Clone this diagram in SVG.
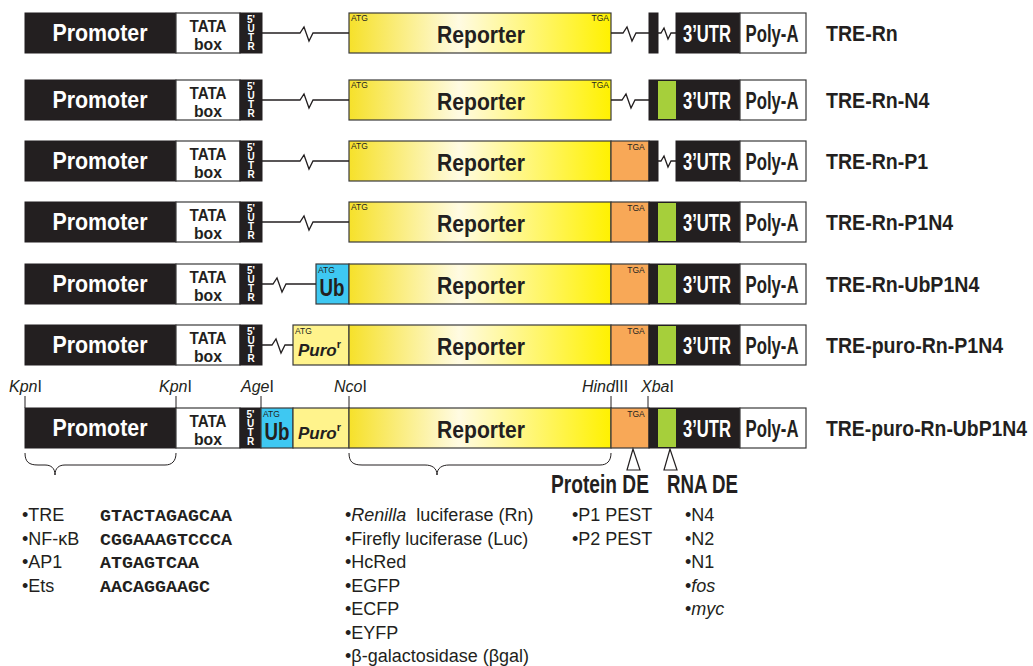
<svg xmlns="http://www.w3.org/2000/svg" width="1033" height="666" viewBox="0 0 1033 666">
<defs>
<linearGradient id="repg" x1="0" y1="0" x2="1" y2="0">
<stop offset="0" stop-color="#f6e12a"/>
<stop offset="0.42" stop-color="#fffbe2"/>
<stop offset="1" stop-color="#fff100"/>
</linearGradient>
<style>
.blk{fill:#231f20;stroke:#231f20;stroke-width:1}
.wht{fill:#fff;stroke:#3a3a3a;stroke-width:1.2}
.rep{fill:url(#repg);stroke:#3a3a3a;stroke-width:1.2}
.org{fill:#f8a857;stroke:#3a3a3a;stroke-width:1.2}
.grn{fill:#a6cf3b}
.ub{fill:#3ec8f2;stroke:#3a3a3a;stroke-width:1.2}
.puro{fill:#fff38c;stroke:#3a3a3a;stroke-width:1.2}
.lnk{fill:none;stroke:#231f20;stroke-width:1.3}
.tick{fill:none;stroke:#231f20;stroke-width:1}
.tri{fill:#fff;stroke:#231f20;stroke-width:1.2}
text{font-family:"Liberation Sans",Arial,Helvetica,sans-serif}
.big{font-size:23px;font-weight:bold;text-anchor:middle}
.w{fill:#fff}
.k{fill:#231f20}
.tata{font-size:16px;font-weight:bold;text-anchor:middle;fill:#231f20}
.u5{font-size:10px;font-weight:bold;text-anchor:middle;fill:#fff}
.tiny{font-size:8.5px;fill:#231f20}
.lab{font-size:22px;font-weight:bold;fill:#231f20}
.de{font-size:26px;font-weight:bold;fill:#231f20}
.site{font-size:16px;fill:#231f20}
.list{font-size:18px;fill:#231f20}
.seq{font-family:"Liberation Mono","Courier New",monospace;font-size:17px;font-weight:bold;fill:#231f20}
.it{font-style:italic}
.pu{font-size:17px;font-weight:bold;font-style:italic;fill:#231f20}
</style>
</defs>
<rect width="1033" height="666" fill="#fff"/>

<!-- Row 1 -->
<g id="row-TRE-Rn" transform="translate(0,13)">
<g id="r1-promoter"><rect class="blk" x="25" y="0" width="151" height="40"/><text class="big w" x="100" y="28" textLength="95" lengthAdjust="spacingAndGlyphs">Promoter</text></g>
<g id="r1-tata"><rect class="wht" x="176" y="0" width="64" height="40"/><text class="tata"><tspan x="208" y="19" textLength="37" lengthAdjust="spacingAndGlyphs">TATA</tspan><tspan x="208" y="37" textLength="28" lengthAdjust="spacingAndGlyphs">box</tspan></text></g>
<g id="r1-utr5"><rect class="blk" x="240" y="0" width="22" height="40"/><text class="u5"><tspan x="251" y="10">5'</tspan><tspan x="251" y="19">U</tspan><tspan x="251" y="28">T</tspan><tspan x="251" y="37">R</tspan></text></g>
<g id="r1-reporter"><rect class="rep" x="349" y="0" width="262" height="40"/><text class="big k" x="481" y="30" font-size="25" textLength="88" lengthAdjust="spacingAndGlyphs">Reporter</text><text class="tiny" x="351" y="8">ATG</text><text class="tiny" x="609" y="8" text-anchor="end">TGA</text></g>
<g id="r1-stop"><rect class="blk" x="649" y="0" width="9" height="40"/></g>
<g id="r1-utr3"><rect class="blk" x="676" y="0" width="64" height="40"/><text class="big w" x="707" y="29" textLength="48" lengthAdjust="spacingAndGlyphs">3’UTR</text></g>
<g id="r1-polya"><rect class="wht" x="740" y="0" width="66" height="40"/><text class="big k" x="772" y="29" textLength="53" lengthAdjust="spacingAndGlyphs">Poly-A</text></g>
<text class="lab" transform="translate(826,28) scale(0.89,1)">TRE-Rn</text>
</g>

<!-- Row 2 -->
<g id="row-TRE-Rn-N4" transform="translate(0,80)">
<g id="r2-promoter"><rect class="blk" x="25" y="0" width="151" height="40"/><text class="big w" x="100" y="28" textLength="95" lengthAdjust="spacingAndGlyphs">Promoter</text></g>
<g id="r2-tata"><rect class="wht" x="176" y="0" width="64" height="40"/><text class="tata"><tspan x="208" y="19" textLength="37" lengthAdjust="spacingAndGlyphs">TATA</tspan><tspan x="208" y="37" textLength="28" lengthAdjust="spacingAndGlyphs">box</tspan></text></g>
<g id="r2-utr5"><rect class="blk" x="240" y="0" width="22" height="40"/><text class="u5"><tspan x="251" y="10">5'</tspan><tspan x="251" y="19">U</tspan><tspan x="251" y="28">T</tspan><tspan x="251" y="37">R</tspan></text></g>
<g id="r2-reporter"><rect class="rep" x="349" y="0" width="262" height="40"/><text class="big k" x="481" y="30" font-size="25" textLength="88" lengthAdjust="spacingAndGlyphs">Reporter</text><text class="tiny" x="351" y="8">ATG</text><text class="tiny" x="609" y="8" text-anchor="end">TGA</text></g>
<g id="r2-utr3"><rect class="blk" x="649" y="0" width="91" height="40"/><rect class="grn" x="658" y="1" width="18" height="38"/><text class="big w" x="707" y="29" textLength="48" lengthAdjust="spacingAndGlyphs">3’UTR</text></g>
<g id="r2-polya"><rect class="wht" x="740" y="0" width="66" height="40"/><text class="big k" x="772" y="29" textLength="53" lengthAdjust="spacingAndGlyphs">Poly-A</text></g>
<text class="lab" transform="translate(826,28) scale(0.89,1)">TRE-Rn-N4</text>
</g>

<!-- Row 3 -->
<g id="row-TRE-Rn-P1" transform="translate(0,141)">
<g id="r3-promoter"><rect class="blk" x="25" y="0" width="151" height="40"/><text class="big w" x="100" y="28" textLength="95" lengthAdjust="spacingAndGlyphs">Promoter</text></g>
<g id="r3-tata"><rect class="wht" x="176" y="0" width="64" height="40"/><text class="tata"><tspan x="208" y="19" textLength="37" lengthAdjust="spacingAndGlyphs">TATA</tspan><tspan x="208" y="37" textLength="28" lengthAdjust="spacingAndGlyphs">box</tspan></text></g>
<g id="r3-utr5"><rect class="blk" x="240" y="0" width="22" height="40"/><text class="u5"><tspan x="251" y="10">5'</tspan><tspan x="251" y="19">U</tspan><tspan x="251" y="28">T</tspan><tspan x="251" y="37">R</tspan></text></g>
<g id="r3-reporter"><rect class="rep" x="349" y="0" width="262" height="40"/><text class="big k" x="481" y="30" font-size="25" textLength="88" lengthAdjust="spacingAndGlyphs">Reporter</text><text class="tiny" x="351" y="8">ATG</text></g>
<g id="r3-pest"><rect class="org" x="611" y="0" width="38" height="40"/><text class="tiny" x="636" y="9" text-anchor="middle">TGA</text></g>
<g id="r3-stop"><rect class="blk" x="649" y="0" width="9" height="40"/></g>
<g id="r3-utr3"><rect class="blk" x="676" y="0" width="64" height="40"/><text class="big w" x="707" y="29" textLength="48" lengthAdjust="spacingAndGlyphs">3’UTR</text></g>
<g id="r3-polya"><rect class="wht" x="740" y="0" width="66" height="40"/><text class="big k" x="772" y="29" textLength="53" lengthAdjust="spacingAndGlyphs">Poly-A</text></g>
<text class="lab" transform="translate(826,28) scale(0.89,1)">TRE-Rn-P1</text>
</g>

<!-- Row 4 -->
<g id="row-TRE-Rn-P1N4" transform="translate(0,202)">
<g id="r4-promoter"><rect class="blk" x="25" y="0" width="151" height="40"/><text class="big w" x="100" y="28" textLength="95" lengthAdjust="spacingAndGlyphs">Promoter</text></g>
<g id="r4-tata"><rect class="wht" x="176" y="0" width="64" height="40"/><text class="tata"><tspan x="208" y="19" textLength="37" lengthAdjust="spacingAndGlyphs">TATA</tspan><tspan x="208" y="37" textLength="28" lengthAdjust="spacingAndGlyphs">box</tspan></text></g>
<g id="r4-utr5"><rect class="blk" x="240" y="0" width="22" height="40"/><text class="u5"><tspan x="251" y="10">5'</tspan><tspan x="251" y="19">U</tspan><tspan x="251" y="28">T</tspan><tspan x="251" y="37">R</tspan></text></g>
<g id="r4-reporter"><rect class="rep" x="349" y="0" width="262" height="40"/><text class="big k" x="481" y="30" font-size="25" textLength="88" lengthAdjust="spacingAndGlyphs">Reporter</text><text class="tiny" x="351" y="8">ATG</text></g>
<g id="r4-pest"><rect class="org" x="611" y="0" width="38" height="40"/><text class="tiny" x="636" y="9" text-anchor="middle">TGA</text></g>
<g id="r4-utr3"><rect class="blk" x="649" y="0" width="91" height="40"/><rect class="grn" x="658" y="1" width="18" height="38"/><text class="big w" x="707" y="29" textLength="48" lengthAdjust="spacingAndGlyphs">3’UTR</text></g>
<g id="r4-polya"><rect class="wht" x="740" y="0" width="66" height="40"/><text class="big k" x="772" y="29" textLength="53" lengthAdjust="spacingAndGlyphs">Poly-A</text></g>
<text class="lab" transform="translate(826,28) scale(0.89,1)">TRE-Rn-P1N4</text>
</g>

<!-- Row 5 -->
<g id="row-TRE-Rn-UbP1N4" transform="translate(0,264)">
<g id="r5-promoter"><rect class="blk" x="25" y="0" width="151" height="40"/><text class="big w" x="100" y="28" textLength="95" lengthAdjust="spacingAndGlyphs">Promoter</text></g>
<g id="r5-tata"><rect class="wht" x="176" y="0" width="64" height="40"/><text class="tata"><tspan x="208" y="19" textLength="37" lengthAdjust="spacingAndGlyphs">TATA</tspan><tspan x="208" y="37" textLength="28" lengthAdjust="spacingAndGlyphs">box</tspan></text></g>
<g id="r5-utr5"><rect class="blk" x="240" y="0" width="22" height="40"/><text class="u5"><tspan x="251" y="10">5'</tspan><tspan x="251" y="19">U</tspan><tspan x="251" y="28">T</tspan><tspan x="251" y="37">R</tspan></text></g>
<g id="r5-ub"><rect class="ub" x="316" y="0" width="33" height="40"/><text class="tiny" x="318" y="9">ATG</text><text class="big k" x="332" y="32" textLength="25" lengthAdjust="spacingAndGlyphs">Ub</text></g>
<g id="r5-reporter"><rect class="rep" x="349" y="0" width="262" height="40"/><text class="big k" x="481" y="30" font-size="25" textLength="88" lengthAdjust="spacingAndGlyphs">Reporter</text></g>
<g id="r5-pest"><rect class="org" x="611" y="0" width="38" height="40"/><text class="tiny" x="636" y="9" text-anchor="middle">TGA</text></g>
<g id="r5-utr3"><rect class="blk" x="649" y="0" width="91" height="40"/><rect class="grn" x="658" y="1" width="18" height="38"/><text class="big w" x="707" y="29" textLength="48" lengthAdjust="spacingAndGlyphs">3’UTR</text></g>
<g id="r5-polya"><rect class="wht" x="740" y="0" width="66" height="40"/><text class="big k" x="772" y="29" textLength="53" lengthAdjust="spacingAndGlyphs">Poly-A</text></g>
<text class="lab" transform="translate(826,28) scale(0.89,1)">TRE-Rn-UbP1N4</text>
</g>

<!-- Row 6 -->
<g id="row-TRE-puro-Rn-P1N4" transform="translate(0,325)">
<g id="r6-promoter"><rect class="blk" x="25" y="0" width="151" height="40"/><text class="big w" x="100" y="28" textLength="95" lengthAdjust="spacingAndGlyphs">Promoter</text></g>
<g id="r6-tata"><rect class="wht" x="176" y="0" width="64" height="40"/><text class="tata"><tspan x="208" y="19" textLength="37" lengthAdjust="spacingAndGlyphs">TATA</tspan><tspan x="208" y="37" textLength="28" lengthAdjust="spacingAndGlyphs">box</tspan></text></g>
<g id="r6-utr5"><rect class="blk" x="240" y="0" width="22" height="40"/><text class="u5"><tspan x="251" y="10">5'</tspan><tspan x="251" y="19">U</tspan><tspan x="251" y="28">T</tspan><tspan x="251" y="37">R</tspan></text></g>
<g id="r6-puro"><rect class="puro" x="293" y="0" width="56" height="40"/><text class="tiny" x="295" y="9">ATG</text><text class="pu" x="298" y="31">Puro<tspan font-size="11" font-style="normal" dy="-8">r</tspan></text></g>
<g id="r6-reporter"><rect class="rep" x="349" y="0" width="262" height="40"/><text class="big k" x="481" y="30" font-size="25" textLength="88" lengthAdjust="spacingAndGlyphs">Reporter</text></g>
<g id="r6-pest"><rect class="org" x="611" y="0" width="38" height="40"/><text class="tiny" x="636" y="9" text-anchor="middle">TGA</text></g>
<g id="r6-utr3"><rect class="blk" x="649" y="0" width="91" height="40"/><rect class="grn" x="658" y="1" width="18" height="38"/><text class="big w" x="707" y="29" textLength="48" lengthAdjust="spacingAndGlyphs">3’UTR</text></g>
<g id="r6-polya"><rect class="wht" x="740" y="0" width="66" height="40"/><text class="big k" x="772" y="29" textLength="53" lengthAdjust="spacingAndGlyphs">Poly-A</text></g>
<text class="lab" transform="translate(826,28) scale(0.89,1)">TRE-puro-Rn-P1N4</text>
</g>

<!-- Row 7 -->
<g id="row-TRE-puro-Rn-UbP1N4" transform="translate(0,408)">
<g id="r7-promoter"><rect class="blk" x="25" y="0" width="151" height="40"/><text class="big w" x="100" y="28" textLength="95" lengthAdjust="spacingAndGlyphs">Promoter</text></g>
<g id="r7-tata"><rect class="wht" x="176" y="0" width="64" height="40"/><text class="tata"><tspan x="208" y="19" textLength="37" lengthAdjust="spacingAndGlyphs">TATA</tspan><tspan x="208" y="37" textLength="28" lengthAdjust="spacingAndGlyphs">box</tspan></text></g>
<g id="r7-utr5"><rect class="blk" x="240" y="0" width="21" height="40"/><text class="u5"><tspan x="250.5" y="10">5'</tspan><tspan x="250.5" y="19">U</tspan><tspan x="250.5" y="28">T</tspan><tspan x="250.5" y="37">R</tspan></text></g>
<g id="r7-ub"><rect class="ub" x="261" y="0" width="32" height="40"/><text class="tiny" x="263" y="9">ATG</text><text class="big k" x="277" y="32" textLength="25" lengthAdjust="spacingAndGlyphs">Ub</text></g>
<g id="r7-puro"><rect class="puro" x="293" y="0" width="56" height="40"/><text class="pu" x="298" y="31">Puro<tspan font-size="11" font-style="normal" dy="-8">r</tspan></text></g>
<g id="r7-reporter"><rect class="rep" x="349" y="0" width="262" height="40"/><text class="big k" x="481" y="30" font-size="25" textLength="88" lengthAdjust="spacingAndGlyphs">Reporter</text></g>
<g id="r7-pest"><rect class="org" x="611" y="0" width="38" height="40"/><text class="tiny" x="636" y="9" text-anchor="middle">TGA</text></g>
<g id="r7-utr3"><rect class="blk" x="649" y="0" width="91" height="40"/><rect class="grn" x="658" y="1" width="18" height="38"/><text class="big w" x="707" y="29" textLength="48" lengthAdjust="spacingAndGlyphs">3’UTR</text></g>
<g id="r7-polya"><rect class="wht" x="740" y="0" width="66" height="40"/><text class="big k" x="772" y="29" textLength="53" lengthAdjust="spacingAndGlyphs">Poly-A</text></g>
<text class="lab" transform="translate(826,28) scale(0.88,1)">TRE-puro-Rn-UbP1N4</text>
</g>

<!-- Connectors -->
<g id="connectors">
<path class="lnk" transform="translate(0,13)" d="M262,20 H300 l4,-6 l5,14 l4,-8 H349 M611,20 H623 l4,-6 l5,14 l4,-8 H649 M658,20 H661 l3,-5 l4,11 l3,-6 H676"/>
<path class="lnk" transform="translate(0,80)" d="M262,20 H300 l4,-6 l5,14 l4,-8 H349 M611,20 H622 l4,-6 l5,14 l4,-8 H649"/>
<path class="lnk" transform="translate(0,141)" d="M262,20 H300 l4,-6 l5,14 l4,-8 H349 M658,20 H661 l3,-5 l4,11 l3,-6 H676"/>
<path class="lnk" transform="translate(0,202)" d="M262,20 H300 l4,-6 l5,14 l4,-8 H349"/>
<path class="lnk" transform="translate(0,264)" d="M262,20 H273 l4,-6 l5,14 l4,-8 H316"/>
<path class="lnk" transform="translate(0,325)" d="M262,20 H272 l4,-6 l5,14 l4,-8 H293"/>
</g>

<!-- Restriction sites -->
<g id="sites">
<text class="site" x="9" y="392"><tspan class="it">Kpn</tspan>I</text>
<text class="site" x="159" y="392"><tspan class="it">Kpn</tspan>I</text>
<text class="site" x="241" y="392"><tspan class="it">Age</tspan>I</text>
<text class="site" x="334" y="392"><tspan class="it">Nco</tspan>I</text>
<text class="site" x="582" y="392"><tspan class="it">Hind</tspan>III</text>
<text class="site" x="641" y="392"><tspan class="it">Xba</tspan>I</text>
<path class="tick" d="M25,396 V408 M176,396 V408 M261,396 V408 M349,396 V408 M611,396 V408 M648,396 V408"/>
</g>

<!-- Braces and markers -->
<g id="brace-promoter"><path class="tick" stroke-width="1.2" d="M25,453 C25,462 29,465 38,465 H45 C51,465 55,468 55,475 C55,468 59,465 65,465 H165 C172,465 176,461 176,453"/></g>
<g id="brace-reporter"><path class="tick" stroke-width="1.2" d="M349,453 C349,462 353,465 362,465 H425 C432,465 437,468 437,475 C437,468 442,465 449,465 H600 C607,465 611,461 611,453"/></g>
<g id="protein-de"><path class="tri" d="M633,449 L627,470 H640 Z"/><text class="de" transform="translate(551,493) scale(0.737,1)">Protein DE</text></g>
<g id="rna-de"><path class="tri" d="M670,449 L664,470 H677 Z"/><text class="de" transform="translate(667,493) scale(0.72,1)">RNA DE</text></g>

<!-- Lists -->
<g id="list-promoter">
<text class="list" x="22" y="521">•TRE</text>
<text class="list" x="22" y="544.5">•NF-κB</text>
<text class="list" x="22" y="568">•AP1</text>
<text class="list" x="22" y="591.5">•Ets</text>
<text class="seq" x="100" y="521" textLength="132" lengthAdjust="spacingAndGlyphs">GTACTAGAGCAA</text>
<text class="seq" x="100" y="544.5" textLength="132" lengthAdjust="spacingAndGlyphs">CGGAAAGTCCCA</text>
<text class="seq" x="100" y="568" textLength="99" lengthAdjust="spacingAndGlyphs">ATGAGTCAA</text>
<text class="seq" x="100" y="591.5" textLength="110" lengthAdjust="spacingAndGlyphs">AACAGGAAGC</text>
</g>
<g id="list-reporter">
<text class="list" x="345" y="521">•<tspan class="it">Renilla</tspan> <tspan dx="5">luciferase (Rn)</tspan></text>
<text class="list" x="345" y="544.5">•Firefly luciferase (Luc)</text>
<text class="list" x="345" y="568">•HcRed</text>
<text class="list" x="345" y="591.5">•EGFP</text>
<text class="list" x="345" y="615">•ECFP</text>
<text class="list" x="345" y="638.5">•EYFP</text>
<text class="list" x="345" y="662">•β-galactosidase (βgal)</text>
</g>
<g id="list-protein-de">
<text class="list" x="572" y="521">•P1 PEST</text>
<text class="list" x="572" y="544.5">•P2 PEST</text>
</g>
<g id="list-rna-de">
<text class="list" x="685" y="521">•N4</text>
<text class="list" x="685" y="544.5">•N2</text>
<text class="list" x="685" y="568">•N1</text>
<text class="list" x="685" y="591.5">•<tspan class="it">fos</tspan></text>
<text class="list" x="685" y="615">•<tspan class="it">myc</tspan></text>
</g>
</svg>
